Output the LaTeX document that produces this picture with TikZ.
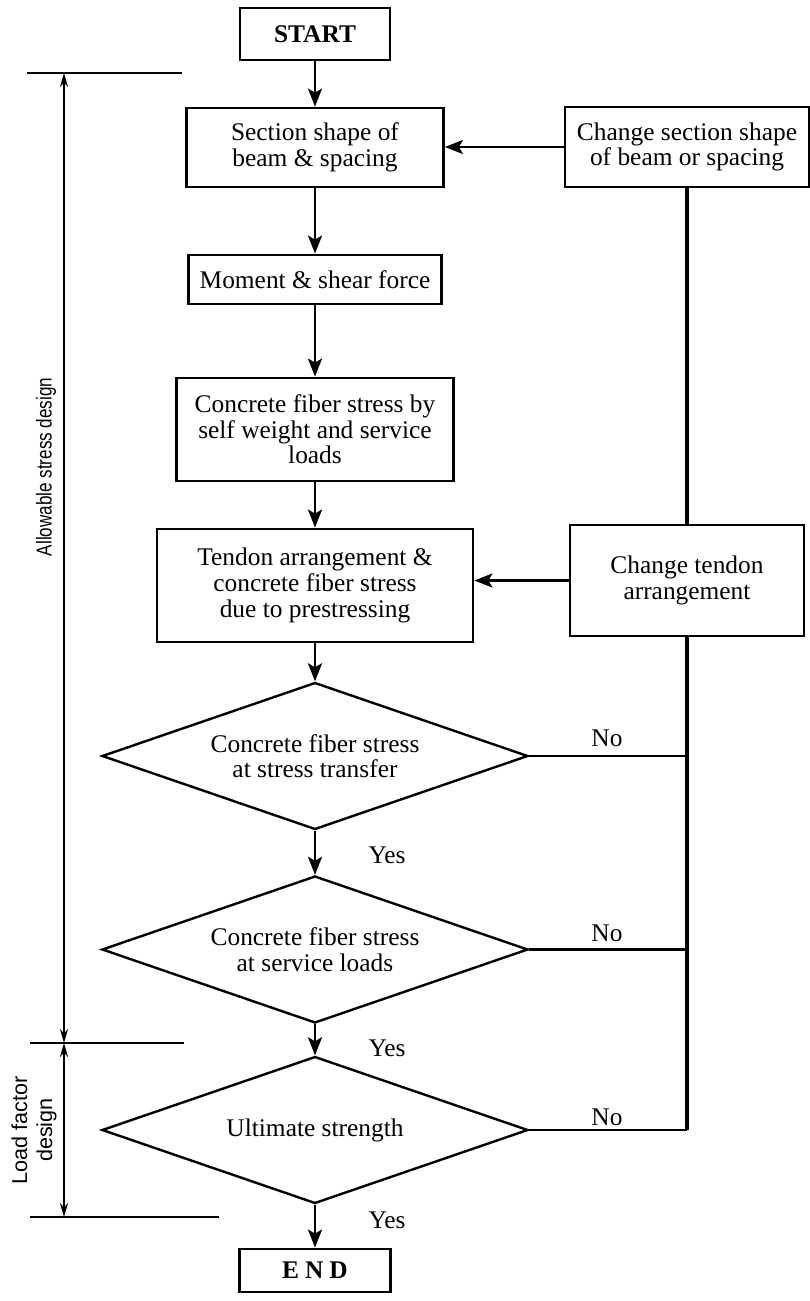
\documentclass[tikz,border=0pt]{standalone}
\usepackage{fontspec}
\setmainfont{Liberation Serif}
\newfontfamily\sidesans{Liberation Sans}
\usetikzlibrary{arrows.meta,shapes.geometric}
\newcommand{\boxfont}{\fontsize{12.7pt}{12.8pt}\selectfont}
\newcommand{\sidefont}{\sidesans\fontsize{10.8pt}{12.5pt}\selectfont}

\begin{document}
\begin{tikzpicture}[x=0.5pt, y=-0.5pt,
    box/.style={draw, line width=1.4pt, align=center, inner sep=0pt, font=\boxfont},
    decision/.style={draw, diamond, line width=1.2pt, align=center, inner sep=0pt, aspect=2.9,
        minimum width=213pt, minimum height=73.5pt, font=\boxfont},
    flow/.style={line width=1.3pt, -{Stealth[length=9pt, width=7pt, inset=2pt]}},
    backline/.style={line width=1.6pt},
    noline/.style={line width=1.1pt},
    dimline/.style={line width=1.1pt, {Stealth[length=7pt, width=4pt]}-{Stealth[length=7pt, width=4pt]}},
    lbl/.style={font=\boxfont, inner sep=0pt}]

    \useasboundingbox (0,0) rectangle (809,1301);

    \node[box, font=\boxfont\bfseries, minimum width=75pt, minimum height=26pt] (start) at (315,34) {START};
    \node[box, minimum width=128.5pt, minimum height=39.5pt] (sec) at (315,147.5) {Section shape of\\beam \& spacing};
    \node[box, minimum width=122pt, minimum height=40pt] (chsec) at (687,147) {Change section shape\\of beam or spacing};
    \node[box, minimum width=126.5pt, minimum height=24.5pt] (mom) at (315,279.5) {Moment \& shear force};
    \node[box, minimum width=138.5pt, minimum height=51.5pt] (conc) at (315,429.5) {Concrete fiber stress by\\self weight and service\\loads};
    \node[box, minimum width=158pt, minimum height=56.5pt] (tend) at (315,585.5) {Tendon arrangement \&\\concrete fiber stress\\due to prestressing};
    \node[box, minimum width=117pt, minimum height=55.5pt] (chtend) at (687,580.5) {Change tendon\\arrangement};

    \node[decision] (d1) at (315,756) {Concrete fiber stress\\at stress transfer};
    \node[decision] (d2) at (315,949.5) {Concrete fiber stress\\at service loads};
    \node[decision] (d3) at (315,1130) {Ultimate strength};
    \node[box, font=\boxfont\bfseries, minimum width=75.5pt, minimum height=21.5pt] (end) at (315,1270.5) {E\kern3pt N\kern3pt D};

    \node[lbl] (no1) at (607,738) {No};
    \node[lbl] (no2) at (607,933) {No};
    \node[lbl] (no3) at (607,1117) {No};
    \node[lbl] (yes1) at (387,855) {Yes};
    \node[lbl] (yes2) at (387,1048) {Yes};
    \node[lbl] (yes3) at (387,1220) {Yes};

    \draw[flow] (start) -- (sec);
    \draw[flow] (sec) -- (mom);
    \draw[flow] (mom) -- (conc);
    \draw[flow] (conc) -- (tend);
    \draw[flow] (tend) -- (d1);
    \draw[flow] (d1) -- (d2);
    \draw[flow] (d2) -- (d3);
    \draw[flow] (d3) -- (end);

    \draw[flow] (chsec.west) -- (chsec.west -| sec.east);
    \draw[flow] (chtend.west) -- (chtend.west -| tend.east);
    \draw[backline] (chsec) -- (chtend);
    \draw[backline] (chtend) -- (chtend |- d3);
    \draw[noline] (d1.east) -- (d1 -| chtend);
    \draw[noline] (d2.east) -- (d2 -| chtend);
    \draw[noline] (d3.east) -- (d3 -| chtend);

    \coordinate (asdtop) at (64,73);
    \coordinate (asdbot) at (64,1043);
    \coordinate (lfdbot) at (64,1217);
    \draw[line width=1.1pt] (27,73) -- (182,73);
    \draw[line width=1.1pt] (30,1043) -- (184,1043);
    \draw[line width=1.1pt] (30,1217) -- (219,1217);
    \draw[dimline] (asdtop) -- (asdbot);
    \draw[dimline] (asdbot) -- (lfdbot);

    \node[rotate=90, font=\sidefont] (asd) at (46,467) {\scalebox{0.79}[1]{Allowable stress design}};
    \node[rotate=90, font=\sidefont, align=center] (lfd) at (34,1130) {Load factor\\design};

\end{tikzpicture}
\end{document}
